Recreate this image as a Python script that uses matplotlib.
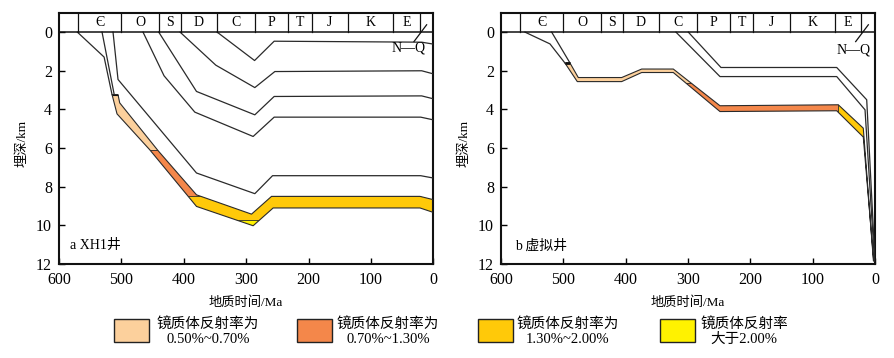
import matplotlib
matplotlib.use('Agg')
import matplotlib.pyplot as plt
from matplotlib.patches import Polygon, Rectangle

plt.rcParams['font.family'] = ['Liberation Serif', 'Noto Sans CJK SC']

# ---------------- data ----------------
periods = ['Є', 'O', 'S', 'D', 'C', 'P', 'T', 'J', 'K', 'E']
period_bounds = [570, 500, 440, 405, 347, 286, 233, 195, 137, 64, 22]
x_ticks = [600, 500, 400, 300, 200, 100, 0]
y_ticks = [0, 2, 4, 6, 8, 10, 12]

# Panel a : XH1 well, burial curves (age Ma, depth km)
a_c0_age = [570.5, 527.7, 515.0]
a_c0_dep = [0.0, 1.29, 3.23]
a_c1_age = [531.0, 511.5]
a_c1_dep = [0.0, 3.23]
a_c2_age = [513.4, 505.4, 379.6, 286.1, 257.7, 20.2, 0.0]
a_c2_dep = [0.0, 2.45, 7.29, 8.36, 7.43, 7.43, 7.55]
a_c3_age = [465.3, 431.6, 382.3, 288.8, 255.1, 20.2, 0.0]
a_c3_dep = [0.0, 2.26, 4.14, 5.40, 4.40, 4.40, 4.54]
a_c4_age = [440.1, 379.6, 286.1, 255.1, 18.6, 0.0]
a_c4_dep = [0.0, 3.07, 4.28, 3.33, 3.30, 3.45]
a_c5_age = [405.9, 348.6, 286.1, 254.0, 18.6, 0.0]
a_c5_dep = [0.0, 1.71, 2.87, 2.04, 2.00, 2.16]
a_c6_age = [346.5, 286.5, 255.1, 18.6, 0.0]
a_c6_dep = [0.0, 1.47, 0.47, 0.52, 0.62]
# source-rock layer (top / base)
a_top_age = [505.4, 502.7, 441.3, 379.6, 291.4, 259.3, 21.4, 0.0]
a_top_dep = [3.23, 3.66, 6.13, 8.42, 9.42, 8.50, 8.50, 8.67]
a_base_age = [515.0, 507.0, 454.5, 379.6, 288.8, 256.7, 21.3, 0.0]
a_base_dep = [3.23, 4.23, 6.09, 9.02, 10.02, 9.10, 9.10, 9.33]
# Ro iso-depths (0.5, 0.7, 1.3, 2.0 %)
a_ro_depths = [3.23, 6.10, 8.46, 9.73]

# Panel b : virtual well
b_c0_age = [561.5, 521.4, 497.4]
b_c0_dep = [0.0, 0.61, 1.60]
b_c1_age = [518.7, 489.3]
b_c1_dep = [0.0, 1.60]
b_c2_age = [319.3, 248.7, 61.4, 16.0, 0.8]
b_c2_dep = [0.0, 2.30, 2.30, 4.02, 11.85]
b_c3_age = [299.5, 247.1, 61.4, 13.3, 0.0]
b_c3_dep = [0.0, 1.83, 1.83, 3.50, 11.85]
b_top_age = [489.3, 476.0, 406.4, 374.3, 323.6, 248.7, 58.9, 18.8, 2.5]
b_top_dep = [1.60, 2.35, 2.35, 1.91, 1.91, 3.81, 3.76, 4.97, 11.85]
b_base_age = [497.4, 477.6, 406.4, 374.3, 323.6, 248.7, 61.4, 18.8, 2.0]
b_base_dep = [1.60, 2.56, 2.56, 2.09, 2.09, 4.11, 4.07, 5.43, 11.85]
b_ro07_depth = 2.64
b_ro13_age = 60.0

legend_labels = ['镜质体反射率为\n0.50%~0.70%', '镜质体反射率为\n0.70%~1.30%',
                 '镜质体反射率为\n1.30%~2.00%', '镜质体反射率\n大于2.00%']
colors = ['#FCD09C', '#F4874A', '#FFC909', '#FFF200']

LINE = '#2a2a2a'

fig = plt.figure(figsize=(8.94, 3.58), dpi=100)
axa = fig.add_axes([59 / 894, 1 - 264 / 358, 374.3 / 894, 251 / 358])
axb = fig.add_axes([501 / 894, 1 - 264 / 358, 374 / 894, 251 / 358])


def setup(ax):
    ax.set_xlim(600, 0)
    ax.set_ylim(12, -0.99)
    ax.set_xticks(x_ticks)
    ax.set_yticks(y_ticks)
    ax.tick_params(direction='in', length=4, width=1.0, labelsize=11.5,
                   top=False, right=False)
    ax.tick_params(axis='x', pad=6)
    ax.tick_params(axis='y', pad=5)
    for s in ax.spines.values():
        s.set_linewidth(1.5)
        s.set_color('#111111')
    ax.set_xlabel('地质时间/Ma', fontsize=9.5, labelpad=6)
    ax.set_ylabel('埋深/km', fontsize=9.5)
    ax.yaxis.label.set_verticalalignment('center')
    ax.yaxis.set_label_coords(-0.099, 0.48)
    # header strip
    ax.axhline(0, color='#111111', lw=1.1, zorder=5)
    for b in period_bounds:
        ax.plot([b, b], [-0.99, 0], color='#111111', lw=0.9, zorder=5)
    for i, p in enumerate(periods):
        ax.text((period_bounds[i] + period_bounds[i + 1]) / 2, -0.5, p,
                ha='center', va='center', fontsize=10, zorder=6)


def band(ax, tage, tdep, bage, bdep, zones, lw_cap=0.8):
    xy = list(zip(tage, tdep)) + list(zip(bage, bdep))[::-1]
    for (a0, a1, d0, d1, c) in zones:
        p = Polygon(xy, closed=True, facecolor=c, edgecolor='none', zorder=2)
        ax.add_patch(p)
        r = Rectangle((a0, d0), a1 - a0, d1 - d0, transform=ax.transData)
        p.set_clip_path(r)
    outline = Polygon(xy, closed=True, facecolor='none', edgecolor=LINE,
                      lw=0.8, zorder=3)
    ax.add_patch(outline)
    ax.plot([bage[0], tage[0]], [bdep[0], tdep[0]], color='#111111',
            lw=lw_cap, zorder=4, solid_capstyle='butt')
    return outline


setup(axa)
setup(axb)

# ---- panel a ----
for ag, dp in [(a_c0_age, a_c0_dep), (a_c1_age, a_c1_dep), (a_c2_age, a_c2_dep),
               (a_c3_age, a_c3_dep), (a_c4_age, a_c4_dep), (a_c5_age, a_c5_dep),
               (a_c6_age, a_c6_dep)]:
    axa.plot(ag, dp, color=LINE, lw=0.9, zorder=3)
zones_a = [
    (0, 600, a_ro_depths[0] - 0.01, a_ro_depths[1], colors[0]),
    (0, 600, a_ro_depths[1], a_ro_depths[2], colors[1]),
    (0, 600, a_ro_depths[2], a_ro_depths[3], colors[2]),
    (0, 600, a_ro_depths[3], 12, colors[3]),
]
oa = band(axa, a_top_age, a_top_dep, a_base_age, a_base_dep, zones_a)
for d in a_ro_depths[1:]:
    ln = axa.axhline(d, color=LINE, lw=0.6, zorder=3)
    ln.set_clip_path(oa)

# ---- panel b ----
for ag, dp in [(b_c0_age, b_c0_dep), (b_c1_age, b_c1_dep),
               (b_c2_age, b_c2_dep), (b_c3_age, b_c3_dep)]:
    axb.plot(ag, dp, color=LINE, lw=0.9, zorder=3)
zones_b = [
    (0, 600, 0, b_ro07_depth, colors[0]),
    (b_ro13_age, 600, b_ro07_depth, 12, colors[1]),
    (0, b_ro13_age, b_ro07_depth, 12, colors[2]),
]
ob = band(axb, b_top_age, b_top_dep, b_base_age, b_base_dep, zones_b, lw_cap=2.0)
ln = axb.axhline(b_ro07_depth, color=LINE, lw=0.6, zorder=3)
ln.set_clip_path(ob)
ln = axb.axvline(b_ro13_age, color=LINE, lw=0.6, zorder=3)
ln.set_clip_path(ob)

# N-Q marks
for ax in (axa, axb):
    ax.plot([10.7, 31.0], [-0.38, 0.49], color='#111111', lw=0.9, zorder=6)
axa.text(39, 0.83, 'N—Q', ha='center', va='center', fontsize=10)
axb.text(34, 0.92, 'N—Q', ha='center', va='center', fontsize=10)

axa.text(583, 11.05, 'a XH1井', ha='left', va='center', fontsize=10)
axb.text(578, 11.05, 'b 虚拟井', ha='left', va='center', fontsize=10)

# ---- legend ----
patch_x = [114, 297, 478, 660]
text_cx = [208, 388, 568, 744]
for px, tx, c, lab in zip(patch_x, text_cx, colors, legend_labels):
    r = Rectangle((px / 894, 1 - 342 / 358), 35 / 894, 23 / 358,
                  transform=fig.transFigure, facecolor=c, edgecolor='#222222',
                  lw=1.0)
    fig.add_artist(r)
    fig.text(tx / 894, 1 - 331.5 / 358, lab, ha='center', va='center',
             fontsize=10.5, linespacing=1.15, multialignment='center')

fig.savefig('out.png', dpi=100)
